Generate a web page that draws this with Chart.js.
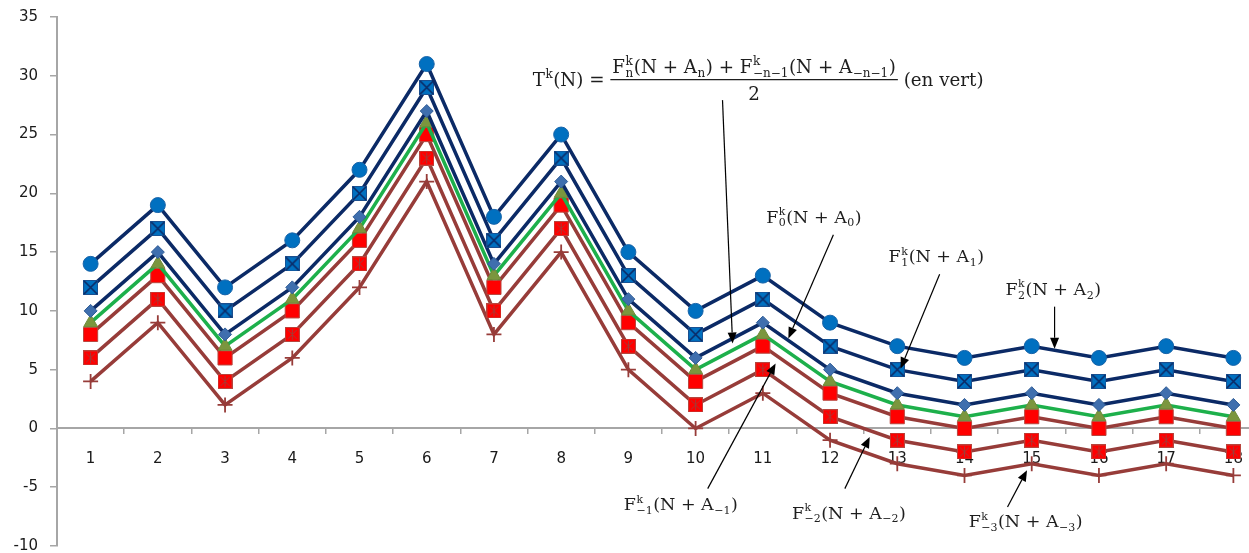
<!DOCTYPE html>
<html>
<head>
<meta charset="utf-8">
<script src="https://cdn.jsdelivr.net/npm/chart.js@4/dist/chart.umd.min.js"></script>
<style>
    html, body { margin: 0; padding: 0; background: #fff; overflow: hidden; }
    #wrap { position: relative; width: 1278px; height: 571px; margin-top: -4px; }
</style>
</head>
<body>
<div id="wrap"><canvas id="chart"></canvas></div>
<script>
var categories = ['1', '2', '3', '4', '5', '6', '7', '8', '9', '10', '11', '12', '13', '14', '15', '16', '17', '18'];
var yTicks = [-10, -5, 0, 5, 10, 15, 20, 25, 30, 35];

var seriesF2 = [14, 19, 12, 16, 22, 31, 18, 25, 15, 10, 13, 9, 7, 6, 7, 6, 7, 6];
var seriesF1 = [12, 17, 10, 14, 20, 29, 16, 23, 13, 8, 11, 7, 5, 4, 5, 4, 5, 4];
var seriesF0 = [10, 15, 8, 12, 18, 27, 14, 21, 11, 6, 9, 5, 3, 2, 3, 2, 3, 2];
var seriesT = [9, 14, 7, 11, 17, 26, 13, 20, 10, 5, 8, 4, 2, 1, 2, 1, 2, 1];
var seriesFm1 = [8, 13, 6, 10, 16, 25, 12, 19, 9, 4, 7, 3, 1, 0, 1, 0, 1, 0];
var seriesFm2 = [6, 11, 4, 8, 14, 23, 10, 17, 7, 2, 5, 1, -1, -2, -1, -2, -1, -2];
var seriesFm3 = [4, 9, 2, 6, 12, 21, 8, 15, 5, 0, 3, -1, -3, -4, -3, -4, -3, -4];

// annotation labels: [centre index, baseline value, rich text]
var labelF0 = [10.76, 17.51, ['F', {sup: 'k', sub: '0'}, '(N + A', {sub: '0'}, ')']];
var labelF1 = [12.58, 14.13, ['F', {sup: 'k', sub: '1'}, '(N + A', {sub: '1'}, ')']];
var labelF2 = [14.32, 11.38, ['F', {sup: 'k', sub: '2'}, '(N + A', {sub: '2'}, ')']];
var labelFm1 = [8.78, -6.93, ['F', {sup: 'k', sub: '\u22121'}, '(N + A', {sub: '\u22121'}, ')']];
var labelFm2 = [11.28, -7.67, ['F', {sup: 'k', sub: '\u22122'}, '(N + A', {sub: '\u22122'}, ')']];
var labelFm3 = [13.91, -8.38, ['F', {sup: 'k', sub: '\u22123'}, '(N + A', {sub: '\u22123'}, ')']];

// arrows: [from index, from value, to index, to value]
var arrowT = [9.40, 27.93, 9.55, 7.23];
var arrowF0 = [11.05, 16.47, 10.38, 7.66];
var arrowF1 = [12.63, 13.11, 12.05, 5.10];
var arrowF2 = [14.34, 10.36, 14.34, 6.78];
var arrowFm1 = [9.18, -5.12, 10.19, 5.53];
var arrowFm2 = [11.22, -5.12, 11.59, -0.72];
var arrowFm3 = [13.64, -6.68, 13.93, -3.55];

// formula: centre index, fraction bar value
var formulaPos = [9.93, 29.67];

var NAVY = '#0b2a66';
var BROWN = '#973c39';
var GREEN = '#1db04b';
var SERIF = '"DejaVu Serif", "Liberation Serif", serif';

function markerCanvas(size, draw) {
    var c = document.createElement('canvas');
    c.width = size;
    c.height = size;
    draw(c.getContext('2d'), size);
    return c;
}

var boxX = markerCanvas(15, function (g, s) {
    g.fillStyle = '#0070c0';
    g.fillRect(0, 0, s, s);
    g.strokeStyle = '#1b4f8f';
    g.lineWidth = 1;
    g.strokeRect(0.5, 0.5, s - 1, s - 1);
    g.strokeStyle = NAVY;
    g.lineWidth = 1.6;
    g.beginPath();
    g.moveTo(1, 1); g.lineTo(s - 1, s - 1);
    g.moveTo(s - 1, 1); g.lineTo(1, s - 1);
    g.stroke();
});

var boxStar = markerCanvas(15, function (g, s) {
    g.fillStyle = '#ff0000';
    g.fillRect(0, 0, s, s);
    g.strokeStyle = '#b8453d';
    g.lineWidth = 1;
    g.strokeRect(0.5, 0.5, s - 1, s - 1);
    g.strokeStyle = '#a33a35';
    g.beginPath();
    g.moveTo(3, 3); g.lineTo(s - 3, s - 3);
    g.moveTo(s - 3, 3); g.lineTo(3, s - 3);
    g.moveTo(s / 2, 2); g.lineTo(s / 2, s - 2);
    g.stroke();
});

function fontMain(size) { return size + 'px ' + SERIF; }
function fontScript(size) { return Math.round(size * 0.64) + 'px ' + SERIF; }

function richWidth(ctx, parts, size) {
    var w = 0;
    parts.forEach(function (p) {
        if (typeof p === 'string') {
            ctx.font = fontMain(size);
            w += ctx.measureText(p).width;
        } else {
            ctx.font = fontScript(size);
            w += Math.max(p.sup ? ctx.measureText(p.sup).width : 0, p.sub ? ctx.measureText(p.sub).width : 0) + 1;
        }
    });
    return w;
}

function drawRich(ctx, parts, x, y, size) {
    ctx.textAlign = 'left';
    ctx.textBaseline = 'alphabetic';
    parts.forEach(function (p) {
        if (typeof p === 'string') {
            ctx.font = fontMain(size);
            ctx.fillText(p, x, y);
            x += ctx.measureText(p).width;
        } else {
            ctx.font = fontScript(size);
            var w = 0;
            if (p.sup) {
                ctx.fillText(p.sup, x + 0.5, y - size * 0.42);
                w = ctx.measureText(p.sup).width;
            }
            if (p.sub) {
                ctx.fillText(p.sub, x + 0.5, y + size * 0.22);
                w = Math.max(w, ctx.measureText(p.sub).width);
            }
            x += w + 1;
        }
    });
}

function drawArrow(ctx, x1, y1, x2, y2) {
    var ang = Math.atan2(y2 - y1, x2 - x1);
    var len = 11, half = 4.5;
    var bx = x2 - Math.cos(ang) * len, by = y2 - Math.sin(ang) * len;
    ctx.strokeStyle = '#000';
    ctx.fillStyle = '#000';
    ctx.lineWidth = 1.2;
    ctx.beginPath();
    ctx.moveTo(x1, y1);
    ctx.lineTo(bx, by);
    ctx.stroke();
    ctx.beginPath();
    ctx.moveTo(x2, y2);
    ctx.lineTo(bx + Math.sin(ang) * half, by - Math.cos(ang) * half);
    ctx.lineTo(bx - Math.sin(ang) * half, by + Math.cos(ang) * half);
    ctx.closePath();
    ctx.fill();
}

var annotationPlugin = {
    id: 'annotations',
    afterDatasetsDraw: function (chart) {
        var ctx = chart.ctx;
        var xs = chart.scales.x, ys = chart.scales.y;
        var size = 17.5, fsize = 18.3;
        ctx.save();

        [arrowT, arrowF0, arrowF1, arrowF2, arrowFm1, arrowFm2, arrowFm3].forEach(function (a) {
            drawArrow(ctx, xs.getPixelForValue(a[0]), ys.getPixelForValue(a[1]),
                xs.getPixelForValue(a[2]), ys.getPixelForValue(a[3]));
        });

        ctx.fillStyle = '#1e1e1e';
        [labelF0, labelF1, labelF2, labelFm1, labelFm2, labelFm3].forEach(function (l) {
            var w = richWidth(ctx, l[2], size);
            drawRich(ctx, l[2], xs.getPixelForValue(l[0]) - w / 2, ys.getPixelForValue(l[1]), size);
        });

        // T^k(N) = (F_n + F_-n-1) / 2 (en vert)
        var lhs = ['T', {sup: 'k'}, '(N) = '];
        var num = ['F', {sup: 'k', sub: 'n'}, '(N + A', {sub: 'n'}, ') + F', {sup: 'k', sub: '\u2212n\u22121'}, '(N + A', {sub: '\u2212n\u22121'}, ')'];
        var den = ['2'];
        var rhs = [' (en vert)'];
        var wl = richWidth(ctx, lhs, fsize), wn = richWidth(ctx, num, fsize);
        var wd = richWidth(ctx, den, fsize), wr = richWidth(ctx, rhs, fsize);
        var fw = Math.max(wn, wd) + 4;
        var total = wl + fw + wr;
        var cx = xs.getPixelForValue(formulaPos[0]);
        var barY = ys.getPixelForValue(formulaPos[1]);
        var x0 = cx - total / 2;
        drawRich(ctx, lhs, x0, barY + 6, fsize);
        var fx = x0 + wl;
        drawRich(ctx, num, fx + (fw - wn) / 2, barY - 7, fsize);
        drawRich(ctx, den, fx + (fw - wd) / 2, barY + 20, fsize);
        ctx.strokeStyle = '#1e1e1e';
        ctx.lineWidth = 1.3;
        ctx.beginPath();
        ctx.moveTo(fx, barY);
        ctx.lineTo(fx + fw, barY);
        ctx.stroke();
        drawRich(ctx, rhs, fx + fw, barY + 6, fsize);

        ctx.restore();
    }
};

function lineSet(data, color, width, style, radius, fill, border) {
    return {
        data: data,
        borderColor: color,
        borderWidth: width,
        pointStyle: style,
        pointRadius: radius,
        pointBackgroundColor: fill,
        pointBorderColor: border,
        pointBorderWidth: 1,
        tension: 0,
        fill: false,
        clip: false
    };
}

var datasets = [
    lineSet(seriesF2, NAVY, 3.5, 'circle', 7.5, '#0070c0', '#1763a8'),
    lineSet(seriesF1, NAVY, 3.5, boxX, 7, '#0070c0', '#1b4f8f'),
    lineSet(seriesF0, NAVY, 3.5, 'rectRot', 6.5, '#3f6fae', '#2f5c96'),
    lineSet(seriesT, GREEN, 3.5, 'triangle', 8, '#7b963e', '#6e8a38'),
    lineSet(seriesFm1, BROWN, 3.5, 'rect', 10, '#ff0000', '#b8453d'),
    lineSet(seriesFm2, BROWN, 3.5, boxStar, 7, '#ff0000', '#b8453d'),
    lineSet(seriesFm3, BROWN, 3.5, 'cross', 7.5, BROWN, BROWN)
];
datasets[6].pointBorderWidth = 1.8;

new Chart(document.getElementById('chart'), {
    type: 'line',
    data: {labels: categories, datasets: datasets},
    options: {
        responsive: true,
        maintainAspectRatio: false,
        animation: false,
        events: [],
        layout: {padding: {top: 14, bottom: 9, left: 0, right: 0}},
        plugins: {legend: {display: false}, tooltip: {enabled: false}},
        scales: {
            x: {
                position: {y: 0},
                offset: true,
                afterFit: function (s) { s.height = 0; },
                grid: {offset: true, drawOnChartArea: false, tickLength: 5, color: '#a6a6a6', lineWidth: 1.5},
                border: {color: '#a6a6a6', width: 2},
                ticks: {color: '#1a1a1a', padding: 17, maxRotation: 0, autoSkip: false, font: {family: 'DejaVu Sans', size: 15}}
            },
            y: {
                min: yTicks[0],
                max: yTicks[yTicks.length - 1],
                afterFit: function (s) { s.width = 57; },
                afterBuildTicks: function (s) {
                    s.ticks = yTicks.map(function (v) { return {value: v}; });
                },
                grid: {drawOnChartArea: false, tickLength: 7, color: '#a6a6a6', lineWidth: 1.5},
                border: {color: '#a6a6a6', width: 2},
                ticks: {color: '#1a1a1a', padding: 12, font: {family: 'DejaVu Sans', size: 15}}
            }
        }
    },
    plugins: [annotationPlugin]
});
</script>
</body>
</html>
